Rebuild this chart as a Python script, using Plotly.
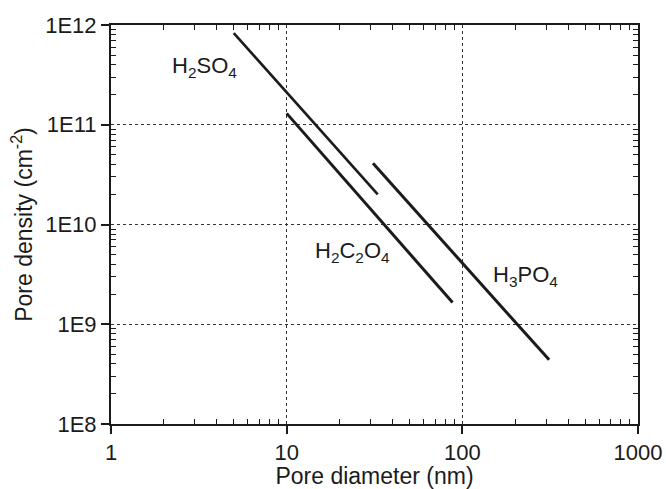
import numpy as np
import plotly.graph_objects as go

# Data: straight fits on log-log axes, two end points each
h2so4_d = [5.0, 33.0]
h2so4_n = [8.3e11, 2.0e10]
h2c2o4_d = [10.0, 88.0]
h2c2o4_n = [1.3e11, 1.65e9]
h3po4_d = [31.0, 312.0]
h3po4_n = [4.1e10, 4.4e8]

x_ticks = [1, 10, 100, 1000]
x_ticktext = ["1", "10", "100", "1000"]
y_ticks = [1e8, 1e9, 1e10, 1e11, 1e12]
y_ticktext = ["1E8", "1E9", "1E10", "1E11", "1E12"]

labels = [
    ("H<sub>2</sub>SO<sub>4</sub>", 3.4, 3.78e11),
    ("H<sub>2</sub>C<sub>2</sub>O<sub>4</sub>", 23.6, 5.33e9),
    ("H<sub>3</sub>PO<sub>4</sub>", 230.0, 3.07e9),
]

x_minor = [m * 10 ** k for k in range(0, 3) for m in range(2, 10)]
y_minor = [m * 10 ** k for k in range(8, 12) for m in range(2, 10)]

FONT = "Liberation Sans, Arial, Helvetica, sans-serif"
INK = "#1b1b1b"

fig = go.Figure()
for xs, ys, w in [(h2so4_d, h2so4_n, 2.6), (h2c2o4_d, h2c2o4_n, 3.0), (h3po4_d, h3po4_n, 3.0)]:
    fig.add_trace(go.Scatter(x=xs, y=ys, mode="lines",
                             line=dict(color=INK, width=w), showlegend=False,
                             hoverinfo="skip"))

xr = [0, 3]
yr = [8, 12]

fig.update_layout(
    width=666, height=489,
    margin=dict(l=111, r=28, t=25, b=65),
    paper_bgcolor="white", plot_bgcolor="white",
    font=dict(family=FONT, size=22, color=INK),
    xaxis=dict(type="log", range=xr, tickvals=x_ticks, ticktext=x_ticktext,
               automargin=False,
               ticks="outside", ticklen=8, tickwidth=1.5, tickcolor=INK,
               showline=True, linecolor=INK, linewidth=2, mirror=True,
               showgrid=True, gridcolor="#333333", gridwidth=1, griddash="dot",
               zeroline=False,
               minor=dict(tickvals=x_minor, ticks="inside", ticklen=5,
                          tickwidth=1.2, tickcolor=INK, showgrid=False),
               title=dict(text="Pore diameter (nm)", font=dict(size=23), standoff=1),
               tickfont=dict(size=22)),
    yaxis=dict(type="log", range=yr, tickvals=y_ticks, ticktext=y_ticktext,
               automargin=False,
               ticks="outside", ticklen=8, tickwidth=1.5, tickcolor=INK,
               showline=True, linecolor=INK, linewidth=2, mirror=True,
               showgrid=True, gridcolor="#333333", gridwidth=1, griddash="dot",
               zeroline=False,
               minor=dict(tickvals=y_minor, ticks="inside", ticklen=5,
                          tickwidth=1.2, tickcolor=INK, showgrid=False),
               title=dict(text="Pore density (cm<sup>-2</sup>)", font=dict(size=23), standoff=6),
               tickfont=dict(size=22)),
    xaxis2=dict(type="log", range=xr, overlaying="x", side="top", anchor="y",
                automargin=False,
                showticklabels=False, ticks="", showgrid=False, zeroline=False,
                showline=False,
                minor=dict(tickvals=x_minor, ticks="inside", ticklen=5,
                           tickwidth=1.2, tickcolor=INK, showgrid=False)),
    yaxis2=dict(type="log", range=yr, overlaying="y", side="right", anchor="x",
                automargin=False,
                showticklabels=False, ticks="", showgrid=False, zeroline=False,
                showline=False,
                minor=dict(tickvals=y_minor, ticks="inside", ticklen=5,
                           tickwidth=1.2, tickcolor=INK, showgrid=False)),
)

fig.add_trace(go.Scatter(x=[h2so4_d[0]], y=[h2so4_n[0]], xaxis="x2", yaxis="y2",
                         mode="markers", marker=dict(opacity=0), showlegend=False,
                         hoverinfo="skip"))

for text, x, y in labels:
    fig.add_annotation(x=np.log10(x), y=np.log10(y), xref="x", yref="y",
                       text=text, showarrow=False,
                       font=dict(family=FONT, size=22, color=INK))

fig.write_html("out.html", config={"displayModeBar": False},
               post_script="document.body.style.margin='0';document.body.style.overflow='hidden';")
